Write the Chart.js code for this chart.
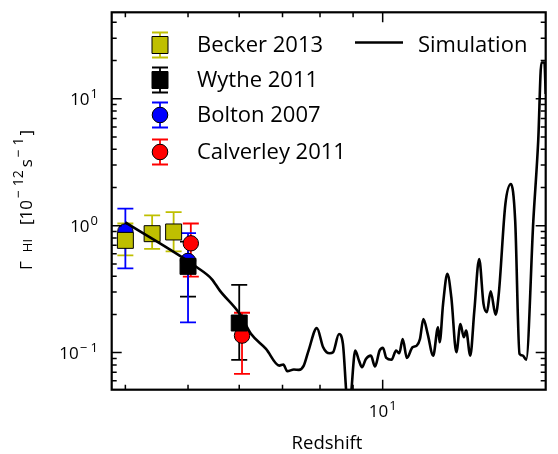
<!DOCTYPE html>
<html>
<head>
<meta charset="utf-8">
<script src="https://cdn.jsdelivr.net/npm/chart.js@4.4.0/dist/chart.umd.min.js"></script>
<style>
  html, body { margin: 0; padding: 0; background: #fff; }
</style>
</head>
<body>
<canvas id="myChart" width="558" height="454"></canvas>
<script>
// Observations (redshift, photoionisation rate, lower/upper error)
const beckerZ = [4.0, 4.4, 4.75];
const beckerG = [0.766, 0.865, 0.892];
const beckerLo = [0.584, 0.656, 0.628];
const beckerHi = [1.04, 1.205, 1.28];

const wytheZ = [5.0, 6.0];
const wytheG = [0.478, 0.171];
const wytheLo = [0.276, 0.0877];
const wytheHi = [0.75, 0.341];

const boltonZ = [4.0, 5.0];
const boltonG = [0.90, 0.528];
const boltonLo = [0.461, 0.173];
const boltonHi = [1.36, 0.875];

const calverleyZ = [5.05, 6.06];
const calverleyG = [0.726, 0.136];
const calverleyLo = [0.397, 0.068];
const calverleyHi = [1.04, 0.206];

// Simulation curve
const simZ = [4.0, 5.16, 5.44, 5.60, 6.01, 6.26, 6.60, 6.92, 7.02, 7.12, 7.29, 7.42, 7.55, 7.68, 7.91,
  8.09, 8.19, 8.28, 8.38, 8.56, 8.68, 8.83, 8.89, 9.07, 9.19, 9.29, 9.42, 9.59, 9.73, 9.89,
  10.01, 10.13, 10.32, 10.49, 10.61, 10.74, 10.90, 11.12, 11.29, 11.42, 11.56, 11.74, 11.97,
  12.18, 12.25, 12.40, 12.59, 12.77, 13.00, 13.19, 13.35, 13.46, 13.66, 13.86, 14.10, 14.32,
  14.49, 14.69, 14.95, 15.12, 15.48, 15.79, 16.03, 16.28, 16.47, 16.67, 17.10, 17.40, 17.60,
  17.79, 17.87];
const simG = [1.06, 0.47, 0.380, 0.308, 0.202, 0.140, 0.107, 0.079, 0.0805, 0.0713, 0.0735, 0.0731, 0.079, 0.1037, 0.156,
  0.110, 0.1005, 0.0987, 0.1005, 0.140, 0.117, 0.04, 0.04, 0.1037, 0.0865, 0.0766, 0.0892, 0.0947, 0.0776, 0.1037,
  0.109, 0.0908, 0.0877, 0.1037, 0.0987, 0.128, 0.0908, 0.110, 0.1135, 0.128, 0.184, 0.140, 0.0947,
  0.158, 0.1205, 0.242, 0.417, 0.272, 0.1005, 0.168, 0.132, 0.149, 0.0947, 0.214, 0.547, 0.242,
  0.208, 0.304, 0.199, 0.290, 1.48, 2.13, 1.095, 0.0977, 0.0947, 0.0877, 1.095, 4.67, 19.3,
  19.3, 10.9];

// Axis ticks
const xMajor = [10];
const xMinor = [4, 5, 6, 7, 8, 9];
const yMajor = [0.1, 1, 10];
const yMinor = [0.06, 0.07, 0.08, 0.09, 0.2, 0.3, 0.4, 0.5, 0.6, 0.7, 0.8, 0.9,
  2, 3, 4, 5, 6, 7, 8, 9, 20, 30, 40];
const yLabels = [['10', '\u2212 1'], ['10', '0'], ['10', '1']];
const xLabels = [['10', '1']];

const YELLOW = '#bfbf00';
const FONT = '"Open Sans", sans-serif';

function pts(xs, ys) {
    return xs.map((x, i) => ({ x: x, y: ys[i] }));
}

// "10" with a raised exponent, anchored at its right edge or its centre
function drawPower(ctx, base, exp, x, y, align) {
    ctx.font = '17px ' + FONT;
    const wb = ctx.measureText(base).width;
    ctx.font = '13px ' + FONT;
    const we = ctx.measureText(exp).width;
    const total = wb + 1 + we;
    let x0 = align === 'right' ? x - total : x - total / 2;
    ctx.textAlign = 'left';
    ctx.textBaseline = 'alphabetic';
    ctx.font = '17px ' + FONT;
    ctx.fillText(base, x0, y);
    ctx.font = '13px ' + FONT;
    ctx.fillText(exp, x0 + wb + 1, y - 7);
}

const errorBars = {
    id: 'errorBars',
    beforeDatasetsDraw(chart) {
        const ctx = chart.ctx;
        const xs = chart.scales.x, ys = chart.scales.y;
        ctx.save();
        chart.data.datasets.forEach(ds => {
            if (!ds.errLo) return;
            ctx.strokeStyle = ds.errColor;
            ctx.lineWidth = 1.8;
            ds.data.forEach((p, i) => {
                const px = xs.getPixelForValue(p.x);
                const lo = ys.getPixelForValue(ds.errLo[i]);
                const hi = ys.getPixelForValue(ds.errHi[i]);
                ctx.beginPath();
                ctx.moveTo(px, lo); ctx.lineTo(px, hi);
                ctx.moveTo(px - 8, lo); ctx.lineTo(px + 8, lo);
                ctx.moveTo(px - 8, hi); ctx.lineTo(px + 8, hi);
                ctx.stroke();
            });
        });
        ctx.restore();
    }
};

const frameAndLabels = {
    id: 'frameAndLabels',
    afterDraw(chart) {
        const ctx = chart.ctx;
        const a = chart.chartArea;
        const xs = chart.scales.x, ys = chart.scales.y;
        ctx.save();
        ctx.strokeStyle = '#000';
        ctx.fillStyle = '#000';

        // ticks pointing inwards on all four sides
        ctx.lineWidth = 1.5;
        ctx.beginPath();
        const xt = (v, len) => {
            const p = xs.getPixelForValue(v);
            ctx.moveTo(p, a.bottom); ctx.lineTo(p, a.bottom - len);
            ctx.moveTo(p, a.top); ctx.lineTo(p, a.top + len);
        };
        const yt = (v, len) => {
            const p = ys.getPixelForValue(v);
            ctx.moveTo(a.left, p); ctx.lineTo(a.left + len, p);
            ctx.moveTo(a.right, p); ctx.lineTo(a.right - len, p);
        };
        xMajor.forEach(v => xt(v, 10));
        xMinor.forEach(v => xt(v, 5));
        yMajor.forEach(v => yt(v, 10));
        yMinor.forEach(v => yt(v, 5));
        ctx.stroke();

        ctx.lineWidth = 2.2;
        ctx.strokeRect(a.left, a.top, a.right - a.left, a.bottom - a.top);

        // tick labels
        yMajor.forEach((v, i) => {
            const p = ys.getPixelForValue(v);
            drawPower(ctx, yLabels[i][0], yLabels[i][1], 98, p + 6, 'right');
        });
        xMajor.forEach((v, i) => {
            const p = xs.getPixelForValue(v);
            drawPower(ctx, xLabels[i][0], xLabels[i][1], p, 417, 'center');
        });

        // x title
        ctx.font = '18.5px ' + FONT;
        ctx.textAlign = 'center';
        ctx.textBaseline = 'alphabetic';
        ctx.fillText('Redshift', 327, 449);

        // y title, rotated; [text, size, raise, gap after]
        const parts = [['\u0393', 17, 0, 9], ['HI', 13, 0, 14], ['[10', 17, 0, 2], ['\u2212 12', 14, -9, 3],
            ['s', 17, 0, 2], ['\u2212 1', 14, -9, 2], [']', 17, 0, 0]];
        let total = 0;
        parts.forEach(s => {
            ctx.font = s[1] + 'px ' + FONT;
            s.push(ctx.measureText(s[0]).width);
            total += s[4] + s[3];
        });
        ctx.translate(32, 200);
        ctx.rotate(-Math.PI / 2);
        ctx.textAlign = 'left';
        let cx = -total / 2;
        parts.forEach(s => {
            ctx.font = s[1] + 'px ' + FONT;
            ctx.fillText(s[0], cx, s[2]);
            cx += s[4] + s[3];
        });
        ctx.restore();

        // legend
        ctx.save();
        const rows = [
            { label: 'Becker 2013', color: YELLOW, shape: 'rect', y: 45 },
            { label: 'Wythe 2011', color: '#000', shape: 'rect', y: 80 },
            { label: 'Bolton 2007', color: '#0000ff', shape: 'circle', y: 115 },
            { label: 'Calverley 2011', color: '#ff0000', shape: 'circle', y: 152 }
        ];
        const mx = 160;
        rows.forEach(r => {
            ctx.strokeStyle = r.color;
            ctx.lineWidth = 1.8;
            ctx.beginPath();
            ctx.moveTo(mx, r.y - 12.5); ctx.lineTo(mx, r.y + 12.5);
            ctx.moveTo(mx - 8, r.y - 12.5); ctx.lineTo(mx + 8, r.y - 12.5);
            ctx.moveTo(mx - 8, r.y + 12.5); ctx.lineTo(mx + 8, r.y + 12.5);
            ctx.stroke();
            ctx.fillStyle = r.color;
            ctx.strokeStyle = '#000';
            ctx.lineWidth = 1;
            ctx.beginPath();
            if (r.shape === 'rect') ctx.rect(mx - 8, r.y - 8.5, 16, 17);
            else ctx.arc(mx, r.y, 7.8, 0, Math.PI * 2);
            ctx.fill();
            ctx.stroke();
            ctx.fillStyle = '#000';
            ctx.font = '22px ' + FONT;
            ctx.textAlign = 'left';
            ctx.textBaseline = 'alphabetic';
            ctx.fillText(r.label, 197, r.y + 7);
        });
        ctx.strokeStyle = '#000';
        ctx.lineWidth = 2.5;
        ctx.beginPath();
        ctx.moveTo(355, 42.5); ctx.lineTo(403, 42.5);
        ctx.stroke();
        ctx.fillText('Simulation', 418, 51.5);
        ctx.restore();
    }
};

const ctx = document.getElementById('myChart').getContext('2d');
const myChart = new Chart(ctx, {
    type: 'scatter',
    data: {
        datasets: [{
            label: 'Simulation',
            data: pts(simZ, simG),
            showLine: true,
            borderColor: '#000',
            borderWidth: 2.6,
            pointRadius: 0,
            cubicInterpolationMode: 'monotone',
            order: 0
        }, {
            label: 'Wythe 2011',
            data: pts(wytheZ, wytheG),
            errLo: wytheLo, errHi: wytheHi, errColor: '#000',
            pointStyle: 'rect',
            pointRadius: 11.3,
            backgroundColor: '#000',
            borderColor: '#000',
            borderWidth: 1,
            order: 1
        }, {
            label: 'Becker 2013',
            data: pts(beckerZ, beckerG),
            errLo: beckerLo, errHi: beckerHi, errColor: YELLOW,
            pointStyle: 'rect',
            pointRadius: 11.3,
            backgroundColor: YELLOW,
            borderColor: '#000',
            borderWidth: 1,
            order: 2
        }, {
            label: 'Calverley 2011',
            data: pts(calverleyZ, calverleyG),
            errLo: calverleyLo, errHi: calverleyHi, errColor: '#ff0000',
            pointStyle: 'circle',
            pointRadius: 7.7,
            backgroundColor: '#ff0000',
            borderColor: '#000',
            borderWidth: 1,
            order: 3
        }, {
            label: 'Bolton 2007',
            data: pts(boltonZ, boltonG),
            errLo: boltonLo, errHi: boltonHi, errColor: '#0000ff',
            pointStyle: 'circle',
            pointRadius: 7.7,
            backgroundColor: '#0000ff',
            borderColor: '#000',
            borderWidth: 1,
            order: 4
        }]
    },
    options: {
        responsive: false,
        animation: false,
        layout: { padding: { left: 111.7, right: 5.3, top: 10.7, bottom: 64.3 } },
        scales: {
            x: { type: 'logarithmic', min: 3.81, max: 17.87, display: false },
            y: { type: 'logarithmic', min: 0.051, max: 48, display: false }
        },
        plugins: {
            legend: { display: false },
            tooltip: { enabled: false }
        }
    },
    plugins: [errorBars, frameAndLabels]
});
</script>
</body>
</html>
